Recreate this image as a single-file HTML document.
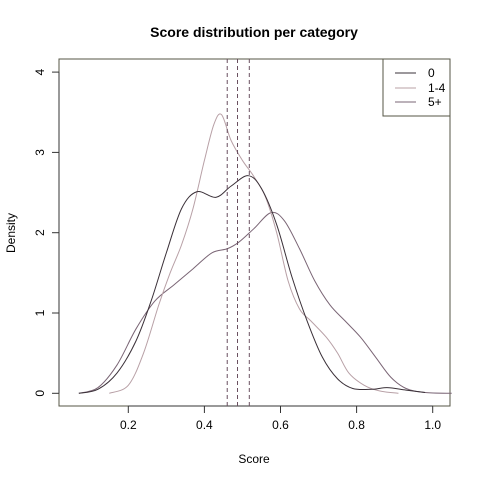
<!DOCTYPE html>
<html><head><meta charset="utf-8"><style>body{margin:0;background:#fff}svg{font-family:"Liberation Sans",sans-serif}</style></head>
<body>
<svg id="c" width="480" height="480">
<text x="254" y="37" text-anchor="middle" font-weight="bold" font-size="14">Score distribution per category</text>
<text x="254" y="463" text-anchor="middle" font-size="12">Score</text>
<text x="0" y="0" transform="translate(15,233) rotate(-90)" text-anchor="middle" font-size="12">Density</text>
<rect x="59" y="59" width="391" height="347" fill="none" stroke="#554"/>
<g id="ax"></g><g id="marks"></g>
<g>
<rect x="383" y="59" width="67" height="57" fill="#fff" stroke="#554"/>
<line x1="395" x2="416" y1="73" y2="73" stroke="#3a3038"/>
<text x="428" y="77" font-size="12">0</text>
<line x1="395" x2="416" y1="88" y2="88" stroke="#b8a0a6"/>
<text x="428" y="92" font-size="12">1-4</text>
<line x1="395" x2="416" y1="102" y2="102" stroke="#7a6575"/>
<text x="428" y="106" font-size="12">5+</text>
</g>
</svg>
<script>
const xTicks=[0.2,0.4,0.6,0.8,1.0];
const xTickLabels=["0.2","0.4","0.6","0.8","1.0"];
const yTicks=[0,1,2,3,4];
const meanLines=[0.46,0.487,0.518];
const s0x=[0.07,0.12,0.17,0.22,0.26,0.30,0.34,0.38,0.43,0.47,0.515,0.55,0.59,0.63,0.67,0.71,0.75,0.79,0.84,0.88,0.93,0.98];
const s0y=[0,0.05,0.25,0.65,1.15,1.75,2.3,2.51,2.44,2.58,2.71,2.55,2.1,1.45,0.9,0.45,0.18,0.06,0.05,0.07,0.04,0.01];
const s1x=[0.15,0.2,0.24,0.28,0.31,0.34,0.37,0.40,0.425,0.445,0.47,0.50,0.53,0.56,0.59,0.62,0.65,0.68,0.72,0.75,0.78,0.82,0.86,0.91];
const s1y=[0,0.1,0.5,1.1,1.5,1.85,2.3,2.9,3.35,3.47,3.15,2.9,2.7,2.45,2.0,1.4,1.05,0.9,0.7,0.5,0.25,0.1,0.03,0];
const s2x=[0.07,0.12,0.17,0.22,0.27,0.32,0.37,0.42,0.46,0.49,0.53,0.575,0.61,0.65,0.69,0.73,0.77,0.81,0.85,0.89,0.93,0.98,1.05];
const s2y=[0,0.07,0.35,0.8,1.15,1.35,1.55,1.75,1.8,1.88,2.05,2.25,2.15,1.8,1.4,1.1,0.9,0.7,0.45,0.2,0.06,0.01,0];
const X=v=>128.3+(v-0.2)*380.5, Y=v=>393.3-v*80.3;
const NS="http://www.w3.org/2000/svg";
const ax=document.getElementById('ax'), mk=document.getElementById('marks');
function el(t,a,p){const e=document.createElementNS(NS,t);for(const k in a)e.setAttribute(k,a[k]);p.appendChild(e);return e;}
let l=el('line',{x1:X(0.2),x2:X(1.0),y1:406,y2:406,stroke:'#333'},ax);


xTicks.forEach((v,i)=>{const t=el('line',{x1:X(v),x2:X(v),y1:406,y2:413,stroke:'#333'},ax);


const tx=el('text',{x:X(v),y:429,'text-anchor':'middle','font-size':12},ax);tx.textContent=xTickLabels[i];

});
l=el('line',{x1:59,x2:59,y1:Y(0),y2:Y(4),stroke:'#333'},ax);


yTicks.forEach(v=>{const t=el('line',{x1:52,x2:59,y1:Y(v),y2:Y(v),stroke:'#333'},ax);


const tx=el('text',{x:0,y:0,transform:`translate(44,${Y(v)}) rotate(-90)`,'text-anchor':'middle','font-size':12},ax);tx.textContent=v;

});
function path(xs,ys){const p=xs.map((x,i)=>[X(x),Y(ys[i])]);let d=`M${p[0][0]},${p[0][1]}`;
for(let i=0;i<p.length-1;i++){const a=p[Math.max(0,i-1)],b=p[i],c=p[i+1],e=p[Math.min(p.length-1,i+2)];
d+=`C${b[0]+(c[0]-a[0])/6},${b[1]+(c[1]-a[1])/6} ${c[0]-(e[0]-b[0])/6},${c[1]-(e[1]-b[1])/6} ${c[0]},${c[1]}`;}return d;}
[[s2x,s2y,'#7a6575','density-5plus'],[s1x,s1y,'#b8a0a6','density-1-4'],[s0x,s0y,'#3a3038','density-0']].forEach(s=>{
const p=el('path',{d:path(s[0],s[1]),fill:'none',stroke:s[2],'stroke-width':1},mk);

});
meanLines.forEach(v=>{const m=el('line',{x1:X(v),x2:X(v),y1:59,y2:406,stroke:'#6a5060','stroke-dasharray':'4,3'},mk);

});
</script>
</body></html>
